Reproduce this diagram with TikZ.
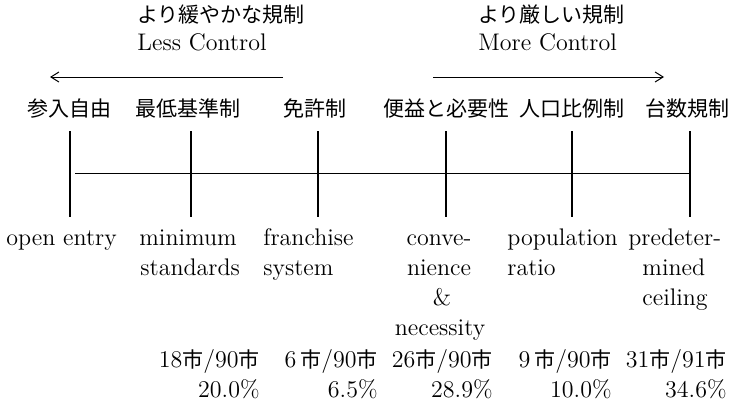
\documentclass[tikz,border=0pt]{standalone}
\usepackage{fontspec}
\newfontfamily\jp{Noto Sans CJK JP}
\usetikzlibrary{arrows.meta}
\newcommand\shi{{\fontsize{10.5}{12}\selectfont\jp 市}}
\tikzset{
  lat/.style={font=\fontsize{12}{14}\selectfont, inner sep=0pt},
  jpn/.style={font=\fontsize{10.5}{12}\selectfont\jp, inner sep=0pt},
  tickline/.style={line width=0.6pt},
  axisline/.style={line width=0.5pt},
  dirarrow/.style={line width=0.5pt, -{Straight Barb[length=4pt,width=5pt]}},
}
\begin{document}
\begin{tikzpicture}[x={(0.5pt,0pt)},y={(0pt,-0.5pt)}]
\fill[white] (0,0) rectangle (731,414);
\useasboundingbox (0,0) rectangle (731,414);

% headings
\node[jpn, anchor=base west] (lessjp) at (137,22) {より緩やかな規制};
\node[lat, anchor=base west] (lessen) at (137,50) {Less Control};
\node[jpn, anchor=base west] (morejp) at (478,22) {より厳しい規制};
\node[lat, anchor=base west] (moreen) at (478,50) {More Control};

% direction arrows
\coordinate (la0) at (283,77);
\coordinate (la1) at (50,77);
\coordinate (ra0) at (433,77);
\coordinate (ra1) at (664,77);
\draw[dirarrow] (la0) -- (la1);
\draw[dirarrow] (ra0) -- (ra1);

% Japanese labels
\node[jpn, anchor=base] (j1) at (69,116) {参入自由};
\node[jpn, anchor=base] (j2) at (188,116) {最低基準制};
\node[jpn, anchor=base] (j3) at (315,116) {免許制};
\node[jpn, anchor=base] (j4) at (446,116) {便益と必要性};
\node[jpn, anchor=base] (j5) at (572,116) {人口比例制};
\node[jpn, anchor=base] (j6) at (687,116) {台数規制};

% scale
\foreach \i/\x in {1/70,2/191,3/318,4/446,5/572,6/690}{
  \coordinate (ta\i) at (\x,131);
  \coordinate (tb\i) at (\x,217);
  \draw[tickline] (ta\i) -- (tb\i);
}
\coordinate (h0) at (75,173);
\coordinate (h1) at (690,173);
\draw[axisline] (h0) -- (h1);

% English labels
\node[lat, anchor=base west] (e1a) at (6,245) {open entry};
\node[lat, anchor=base west] (e2a) at (139,245) {minimum};
\node[lat, anchor=base west] (e2b) at (140,275) {standards};
\node[lat, anchor=base west] (e3a) at (263,245) {franchise};
\node[lat, anchor=base west] (e3b) at (263,275) {system};
\node[lat, anchor=base] (e4a) at (439,245) {conve-};
\node[lat, anchor=base] (e4b) at (439,275) {nience};
\node[lat, anchor=base] (e4c) at (442,305) {\&};
\node[lat, anchor=base] (e4d) at (440,335) {necessity};
\node[lat, anchor=base west] (e5a) at (507,245) {population};
\node[lat, anchor=base west] (e5b) at (507,275) {ratio};
\node[lat, anchor=base west] (e6a) at (628,245) {predeter-};
\node[lat, anchor=base west] (e6b) at (642,275) {mined};
\node[lat, anchor=base west] (e6c) at (642,305) {ceiling};

% counts
\node[lat, anchor=base east] (n2) at (260,367) {18\shi/90\shi};
\node[lat, anchor=base east] (n3) at (378,367) {6\,\shi/90\shi};
\node[lat, anchor=base east] (n4) at (493,367) {26\shi/90\shi};
\node[lat, anchor=base east] (n5) at (612,367) {9\,\shi/90\shi};
\node[lat, anchor=base east] (n6) at (727,367) {31\shi/91\shi};
\node[lat, anchor=base east] (p2) at (260,397) {20.0\%};
\node[lat, anchor=base east] (p3) at (378,397) {6.5\%};
\node[lat, anchor=base east] (p4) at (493,397) {28.9\%};
\node[lat, anchor=base east] (p5) at (612,397) {10.0\%};
\node[lat, anchor=base east] (p6) at (727,397) {34.6\%};
\end{tikzpicture}
\end{document}
